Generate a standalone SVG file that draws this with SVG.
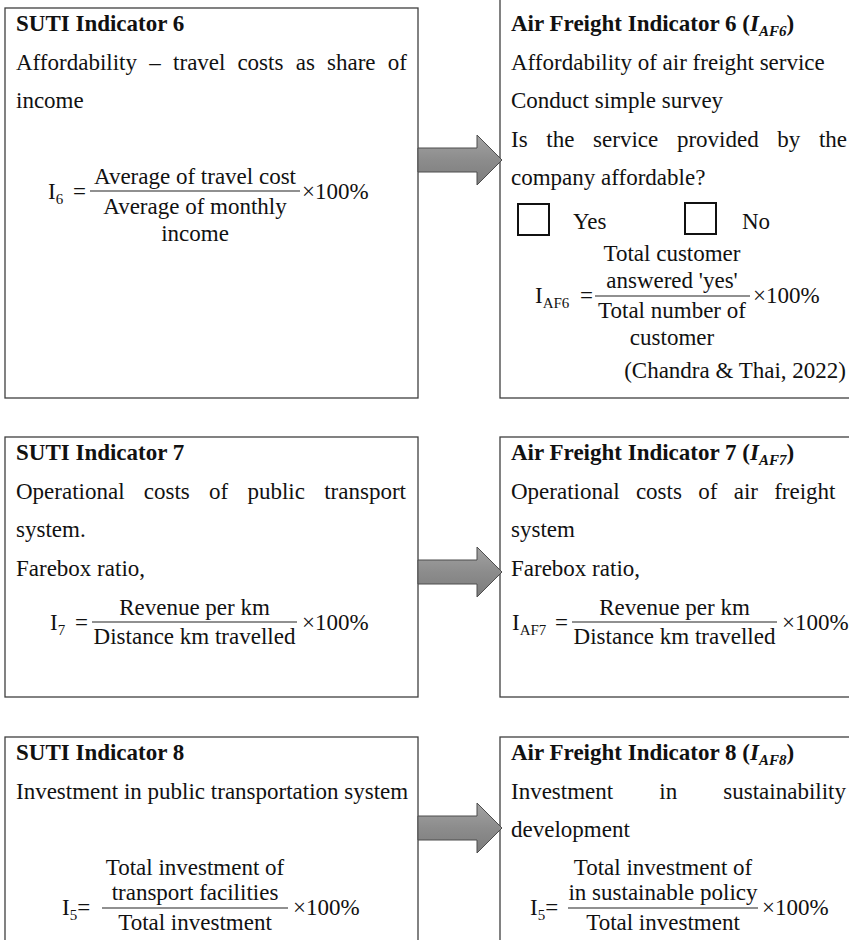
<svg xmlns="http://www.w3.org/2000/svg" width="849" height="940" viewBox="0 0 849 940">
<style>
.box{fill:#fff;stroke:#3f3f3f;stroke-width:1.3}
.t{font-family:"Liberation Serif","Times New Roman",serif;font-size:23px;fill:#111}
.b{font-weight:bold}
.c{text-anchor:middle}
.e{text-anchor:end}
.sub{font-size:15px}
.frac{stroke:#222;stroke-width:1.2}
.chk{fill:none;stroke:#111;stroke-width:2}
.arrow{fill:url(#ag);stroke:#4d4d4d;stroke-width:1}
</style>
<defs>
<linearGradient id="ag" x1="0" y1="0" x2="0" y2="1">
<stop offset="0" stop-color="#a3a3a3"/>
<stop offset="0.5" stop-color="#8c8c8c"/>
<stop offset="1" stop-color="#7c7c7c"/>
</linearGradient>
</defs>
<rect width="849" height="940" fill="#fff"/>

<g id="suti6">
<rect class="box" x="5" y="8" width="413" height="390"/>
<text class="t b" x="16" y="31">SUTI Indicator 6</text>
<text class="t" y="69.5"><tspan x="16">Affordability</tspan><tspan x="149.3">–</tspan><tspan x="173.1">travel</tspan><tspan x="237.4">costs</tspan><tspan x="295.7">as</tspan><tspan x="327">share</tspan><tspan x="387.8">of</tspan></text>
<text class="t" x="16" y="108">income</text>
<text class="t" x="48" y="199">I<tspan class="sub" dy="5">6</tspan></text>
<text class="t" x="73" y="199">=</text>
<text class="t c" x="195" y="184">Average of travel cost</text>
<line class="frac" x1="90" y1="191" x2="300" y2="191"/>
<text class="t c" x="195" y="214">Average of monthly</text>
<text class="t c" x="195" y="241">income</text>
<text class="t" x="302" y="199">×100%</text>
</g>

<g id="af6">
<rect class="box" x="500" y="-2" width="360" height="400"/>
<text class="t b" x="511" y="31">Air Freight Indicator 6 (<tspan font-style="italic">I</tspan><tspan class="sub" font-style="italic" dy="5">AF6</tspan><tspan dy="-5">)</tspan></text>
<text class="t" x="511" y="69.5">Affordability of air freight service</text>
<text class="t" x="511" y="108">Conduct simple survey</text>
<text class="t" y="146.5"><tspan x="511">Is</tspan><tspan x="546.3">the</tspan><tspan x="593.1">service</tspan><tspan x="676.9">provided</tspan><tspan x="777.3">by</tspan><tspan x="818.9">the</tspan></text>
<text class="t" x="511" y="185">company affordable?</text>
<rect class="chk" x="518" y="204" width="31" height="31"/>
<text class="t" x="573" y="229">Yes</text>
<rect class="chk" x="685" y="203" width="31" height="31"/>
<text class="t" x="742" y="229">No</text>
<text class="t c" x="672" y="261">Total customer</text>
<text class="t c" x="672" y="288">answered 'yes'</text>
<line class="frac" x1="595" y1="296" x2="750" y2="296"/>
<text class="t c" x="672" y="318">Total number of</text>
<text class="t c" x="672" y="345">customer</text>
<text class="t" x="535" y="303">I<tspan class="sub" dy="5">AF6</tspan></text>
<text class="t" x="580" y="303">=</text>
<text class="t" x="753" y="303">×100%</text>
<text class="t e" x="846" y="378">(Chandra &amp; Thai, 2022)</text>
</g>

<g id="suti7">
<rect class="box" x="5" y="437" width="413" height="260"/>
<text class="t b" x="16" y="460">SUTI Indicator 7</text>
<text class="t" y="498.5"><tspan x="16">Operational</tspan><tspan x="143.8">costs</tspan><tspan x="209">of</tspan><tspan x="247.4">public</tspan><tspan x="324.2">transport</tspan></text>
<text class="t" x="16" y="537">system.</text>
<text class="t" x="16" y="575.5">Farebox ratio,</text>
<text class="t" x="50" y="630">I<tspan class="sub" dy="5">7</tspan></text>
<text class="t" x="75" y="630">=</text>
<text class="t c" x="194.5" y="615">Revenue per km</text>
<line class="frac" x1="92" y1="622" x2="297" y2="622"/>
<text class="t c" x="194.5" y="644">Distance km travelled</text>
<text class="t" x="302" y="630">×100%</text>
</g>

<g id="af7">
<rect class="box" x="500" y="437" width="360" height="260"/>
<text class="t b" x="511" y="460">Air Freight Indicator 7 (<tspan font-style="italic">I</tspan><tspan class="sub" font-style="italic" dy="5">AF7</tspan><tspan dy="-5">)</tspan></text>
<text class="t" y="498.5"><tspan x="511">Operational</tspan><tspan x="635.9">costs</tspan><tspan x="698.2">of</tspan><tspan x="733.7">air</tspan><tspan x="774.2">freight</tspan></text>
<text class="t" x="511" y="537">system</text>
<text class="t" x="511" y="575.5">Farebox ratio,</text>
<text class="t" x="512" y="630">I<tspan class="sub" dy="5">AF7</tspan></text>
<text class="t" x="555" y="630">=</text>
<text class="t c" x="674.5" y="615">Revenue per km</text>
<line class="frac" x1="572" y1="622" x2="777" y2="622"/>
<text class="t c" x="674.5" y="644">Distance km travelled</text>
<text class="t" x="782" y="630">×100%</text>
</g>

<g id="suti8">
<rect class="box" x="5" y="737" width="413" height="230"/>
<text class="t b" x="16" y="760">SUTI Indicator 8</text>
<text class="t" x="16" y="798.5">Investment in public transportation system</text>
<text class="t c" x="195" y="875">Total investment of</text>
<text class="t c" x="195" y="900">transport facilities</text>
<line class="frac" x1="102" y1="908" x2="288" y2="908"/>
<text class="t c" x="195" y="930">Total investment</text>
<text class="t" x="62" y="915">I<tspan class="sub" dy="5">5</tspan><tspan dy="-5">=</tspan></text>
<text class="t" x="293" y="915">×100%</text>
</g>

<g id="af8">
<rect class="box" x="500" y="737" width="360" height="230"/>
<text class="t b" x="511" y="760">Air Freight Indicator 8 (<tspan font-style="italic">I</tspan><tspan class="sub" font-style="italic" dy="5">AF8</tspan><tspan dy="-5">)</tspan></text>
<text class="t" y="798.5"><tspan x="511">Investment</tspan><tspan x="659.3">in</tspan><tspan x="723.3">sustainability</tspan></text>
<text class="t" x="511" y="837">development</text>
<text class="t c" x="663" y="875">Total investment of</text>
<text class="t c" x="663" y="900">in sustainable policy</text>
<line class="frac" x1="568" y1="908" x2="758" y2="908"/>
<text class="t c" x="663" y="930">Total investment</text>
<text class="t" x="530" y="915">I<tspan class="sub" dy="5">5</tspan><tspan dy="-5">=</tspan></text>
<text class="t" x="762" y="915">×100%</text>
</g>

<g id="connectors">
<polygon class="arrow" points="418,148 477,148 477,135 502,160 477,185 477,172 418,172"/>
<polygon class="arrow" points="418,560 477,560 477,547 502,572 477,597 477,584 418,584"/>
<polygon class="arrow" points="418,816 477,816 477,803 502,828 477,853 477,840 418,840"/>
</g>
</svg>
